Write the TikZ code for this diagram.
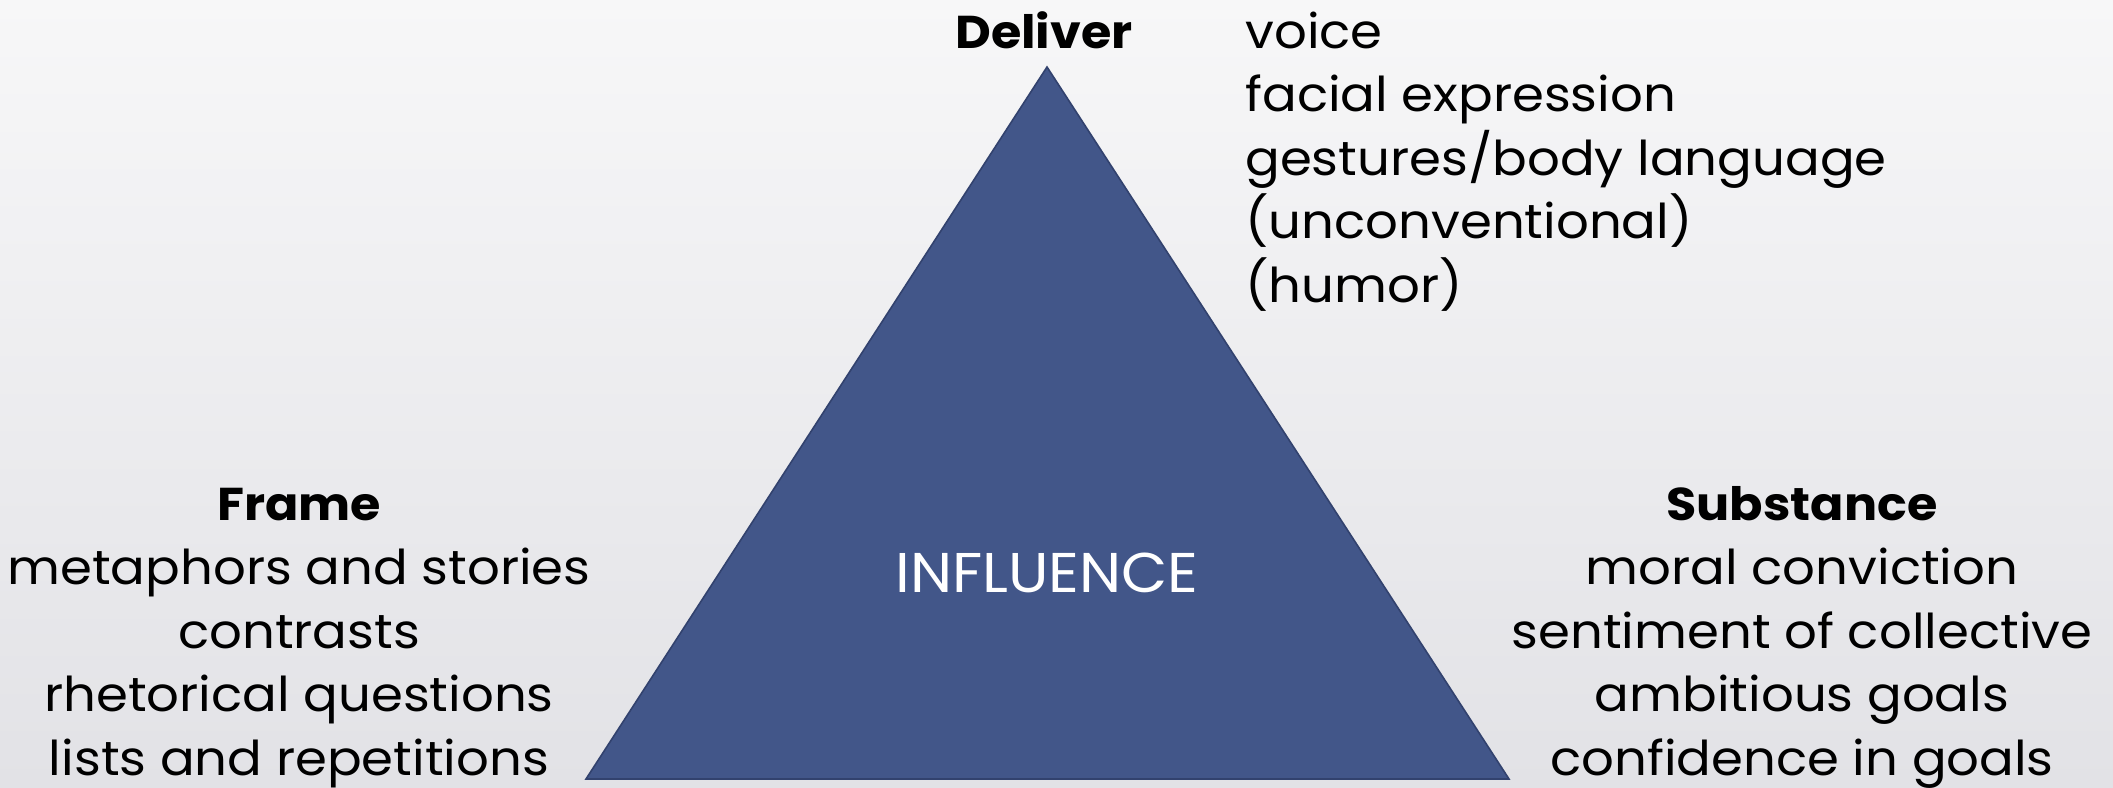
\documentclass[tikz,border=0pt]{standalone}
\usepackage{fontspec}
\setmainfont{Poppins}[FakeStretch=1.07]
\usetikzlibrary{positioning}

\definecolor{triblue}{RGB}{66,86,137}
\definecolor{triedge}{RGB}{50,66,110}
\definecolor{bgtop}{RGB}{247,247,248}
\definecolor{bgbot}{RGB}{226,226,230}

\begin{document}
\begin{tikzpicture}[x=0.5pt, y=-0.5pt,
  item/.style={font=\fontsize{24}{32}\selectfont, inner sep=0pt, anchor=base},
  head/.style={item, font=\fontsize{23}{32}\selectfont\bfseries}]

% background
\shade[top color=bgtop, bottom color=bgbot] (0,0) rectangle (2113,787);
\useasboundingbox (0,0) rectangle (2113,787);

% the triangle
\coordinate (apex) at (1047,67);
\coordinate (left) at (586,779);
\coordinate (right) at (1509,779);
\filldraw[fill=triblue, draw=triedge, line width=0.8pt] (apex) -- (left) -- (right) -- cycle;

\node[item, font=\fontsize{28}{32}\selectfont, text=white] (influence) at (1047,592) {INFLUENCE};

% top corner
\node[head] (deliver) at (1044,48) {Deliver};
\foreach \t [count=\i from 0] in {voice, facial expression, gestures/body language, (unconventional), (humor)}
  \node[item, anchor=base west] (deliver\i) at (1245,48+63.5*\i) {\t};

% left corner
\node[head] (frame) at (299,520) {Frame};
\foreach \t [count=\i] in {metaphors and stories, contrasts, rhetorical questions, lists and repetitions}
  \node[item] (frame\i) at (299,521+63.5*\i) {\t};

% right corner
\node[head] (substance) at (1802,520) {Substance};
\foreach \t [count=\i] in {moral conviction, sentiment of collective, ambitious goals, confidence in goals}
  \node[item] (substance\i) at (1802,521+63.5*\i) {\t};

\end{tikzpicture}
\end{document}
